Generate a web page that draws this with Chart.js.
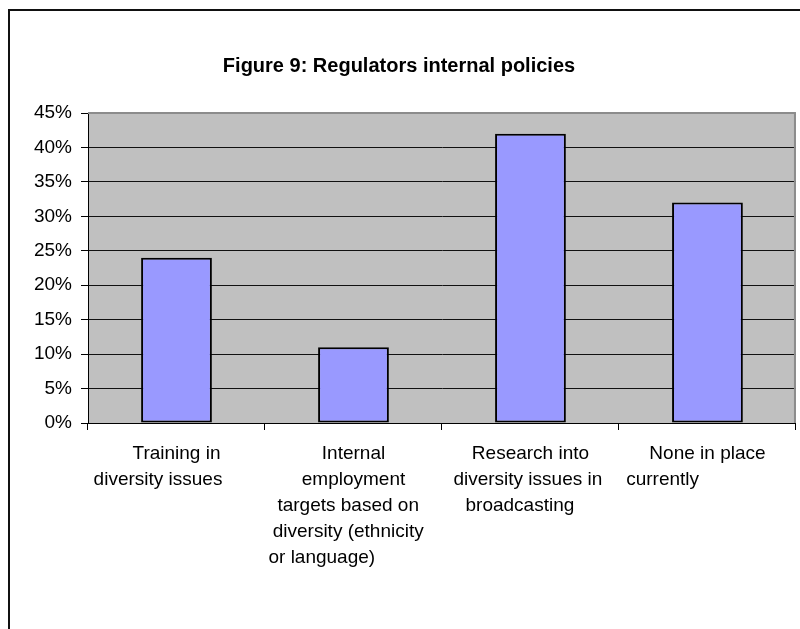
<!DOCTYPE html>
<html>
<head>
<meta charset="utf-8">
<title>Figure 9: Regulators internal policies</title>
<script src="https://cdn.jsdelivr.net/npm/chart.js@4.4.1/dist/chart.umd.min.js"></script>
<style>
  html, body { margin: 0; padding: 0; background: #fff; overflow: hidden; }
  #wrap { position: relative; width: 800px; height: 629px; }
  #frame {
    position: absolute; left: 8px; top: 9px; width: 900px; height: 900px;
    border: 2px solid #111; box-sizing: border-box;
  }
  #chart { position: absolute; left: 0; top: 0; }
</style>
</head>
<body>
<div id="wrap">
  <div id="frame"></div>
  <canvas id="chart" width="800" height="629"></canvas>
</div>
<script>
// Category labels, already wrapped into lines (trailing spaces keep the
// wrapped lines sitting where a text box would put them).
const categories = [
  ['Training in', 'diversity issues       '],
  ['Internal', 'employment', 'targets based on  ', 'diversity (ethnicity  ', 'or language)            '],
  ['Research into', 'diversity issues in ', 'broadcasting    '],
  ['None in place', 'currently                 ']
];

// Share of regulators with each policy (fraction of 1)
const shares = [0.24, 0.11, 0.42, 0.32];

// Value axis
const yMin = 0;
const yMax = 0.45;
const yStep = 0.05;

const FONT = '"Liberation Sans", Arial, Helvetica, sans-serif';

// Grey plot background and its thin grey outline
const plotArea = {
  id: 'plotArea',
  beforeDraw(chart) {
    const { ctx, chartArea: a } = chart;
    ctx.save();
    ctx.fillStyle = '#C0C0C0';
    ctx.fillRect(a.left, a.top, a.right - a.left, a.bottom - a.top);
    ctx.restore();
  },
  afterDraw(chart) {
    const { ctx, chartArea: a } = chart;
    ctx.save();
    ctx.strokeStyle = '#8c8c8c';
    ctx.lineWidth = 2;
    ctx.beginPath();
    ctx.moveTo(a.left, a.top);
    ctx.lineTo(a.right - 1, a.top);
    ctx.lineTo(a.right - 1, a.bottom);
    ctx.stroke();
    ctx.restore();
  }
};

new Chart(document.getElementById('chart'), {
  type: 'bar',
  data: {
    labels: categories,
    datasets: [{
      data: shares,
      backgroundColor: '#9999FF',
      borderColor: '#000',
      borderWidth: 2,
      borderSkipped: false,
      categoryPercentage: 1,
      barPercentage: 0.4
    }]
  },
  options: {
    responsive: false,
    animation: false,
    events: [],
    layout: { padding: { left: 0, top: 10, right: 2, bottom: 0 } },
    plugins: {
      legend: { display: false },
      tooltip: { enabled: false },
      title: {
        display: true,
        text: 'Figure 9: Regulators internal policies',
        color: '#000',
        font: { family: FONT, size: 20, weight: 'bold', lineHeight: 1.2 },
        padding: { top: 44, bottom: 35 }
      }
    },
    scales: {
      x: {
        afterFit(scale) { scale.height = 206; },
        grid: {
          display: true,
          offset: true,
          drawOnChartArea: false,
          drawTicks: true,
          tickLength: 7,
          color: '#000',
          tickColor: '#000',
          lineWidth: 1
        },
        border: { display: true, color: '#000', width: 1 },
        ticks: {
          autoSkip: false,
          maxRotation: 0,
          minRotation: 0,
          padding: 11,
          color: '#000',
          font: { family: FONT, size: 19, lineHeight: 1.37 }
        }
      },
      y: {
        min: yMin,
        max: yMax,
        afterFit(scale) { scale.width = 88; },
        grid: {
          drawTicks: true,
          tickLength: 7,
          lineWidth: 1,
          color: (c) => (c.tick && Math.abs(c.tick.value - yMax) < 1e-9) ? 'rgba(0,0,0,0)' : '#111',
          tickColor: '#000'
        },
        border: { display: true, color: '#000', width: 1 },
        ticks: {
          stepSize: yStep,
          padding: 9,
          color: '#000',
          font: { family: FONT, size: 19 },
          callback: (v) => Math.round(v * 100) + '%'
        }
      }
    }
  },
  plugins: [plotArea]
});
</script>
</body>
</html>
